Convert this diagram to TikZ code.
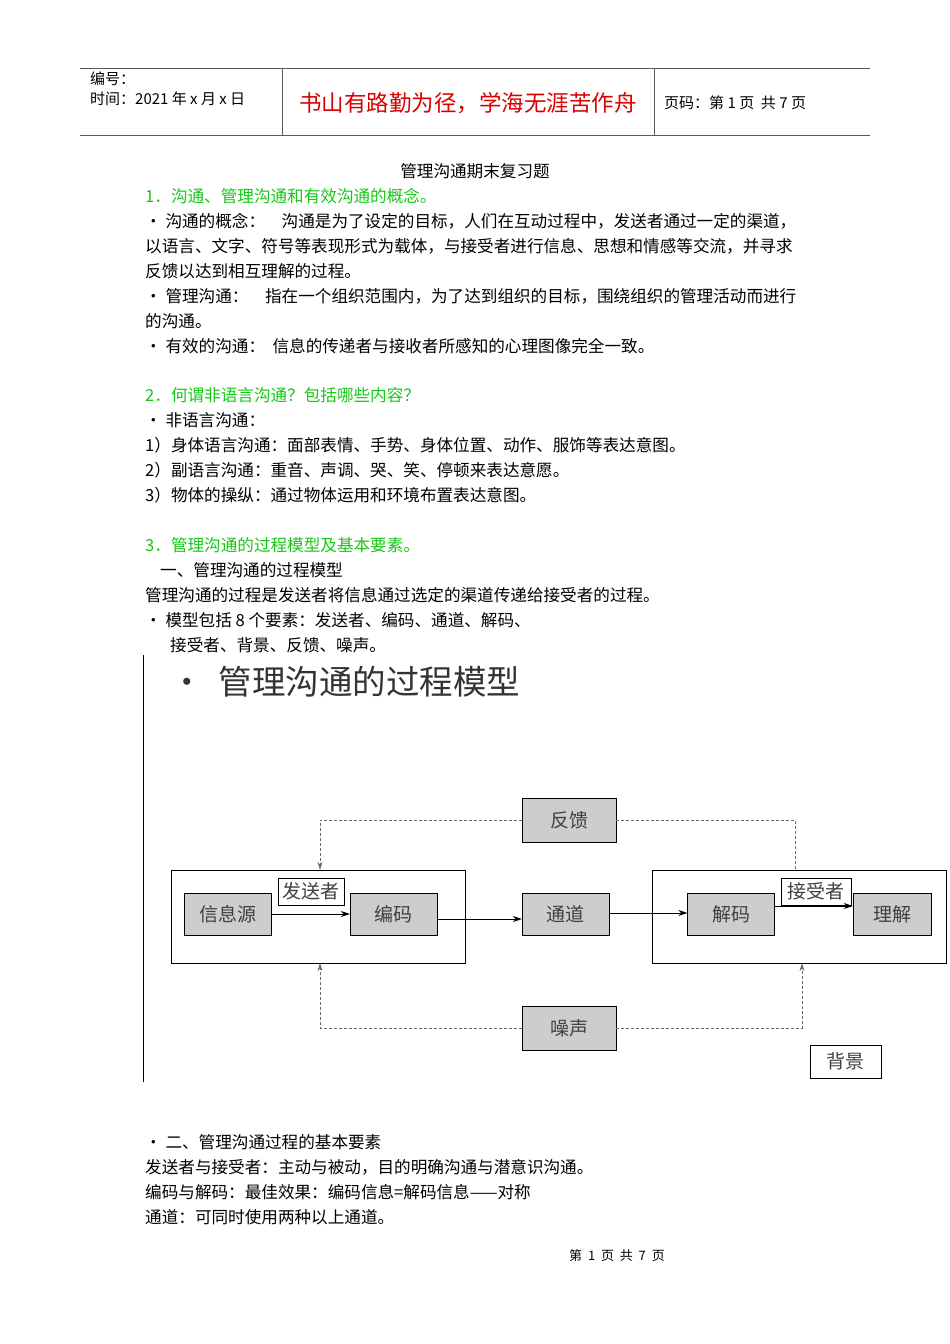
\documentclass[tikz,border=0pt]{standalone}
\usepackage{fontspec}
\setmainfont{Noto Sans CJK SC}
\usetikzlibrary{arrows.meta}
\definecolor{grn}{RGB}{20,200,20}
\definecolor{boxgray}{RGB}{205,205,205}
\begin{document}
\begin{tikzpicture}[x=1pt,y=-1pt,
  txt/.style={anchor=west,inner sep=0pt,font=\fontsize{16.6}{18}\selectfont},
  gtxt/.style={txt,text=grn},
  htxt/.style={anchor=west,inner sep=0pt,font=\fontsize{15}{16}\selectfont},
  gbox/.style={draw,fill=boxgray,minimum width=87pt,minimum height=42pt,inner sep=0pt,font=\fontsize{19}{20}\selectfont\color{black!75}},
  lbox/.style={draw,fill=white,inner sep=1pt,font=\fontsize{19}{20}\selectfont\color{black!75}},
  dl/.style={densely dashed,gray!80!black,line width=0.7pt},
  ar/.style={-{Stealth[length=9pt,width=6pt]},line width=0.8pt}]
\useasboundingbox (0,0) rectangle (950,1344);
% header
\draw[gray!70!black,line width=0.8pt] (80,68) -- (870,68) (80,135) -- (870,135);
\draw[gray!70!black,line width=0.8pt] (282,68) -- (282,135) (654,68) -- (654,135);
\node[htxt] (h1) at (90,79) {编号：};
\node[htxt] (h2) at (90,99) {时间：2021 年 x 月 x 日};
\node[inner sep=0pt,text=red!85!black,font=\fontsize{22.5}{24}\selectfont] (h3) at (468,103) {书山有路勤为径，学海无涯苦作舟};
\node[htxt] (h4) at (664,103) {页码：第 1 页\ \ 共 7 页};
\node[inner sep=0pt,font=\fontsize{16.6}{18}\selectfont] (t) at (475,171) {管理沟通期末复习题};
\node[gtxt] (l1) at (145,196) {1．沟通、管理沟通和有效沟通的概念。};
\node[txt] (l2) at (145,221) {• 沟通的概念：\quad 沟通是为了设定的目标，人们在互动过程中，发送者通过一定的渠道，};
\node[txt] (l3) at (145,246) {以语言、文字、符号等表现形式为载体，与接受者进行信息、思想和情感等交流，并寻求};
\node[txt] (l4) at (145,271) {反馈以达到相互理解的过程。};
\node[txt] (l5) at (145,296) {• 管理沟通：\quad 指在一个组织范围内，为了达到组织的目标，围绕组织的管理活动而进行};
\node[txt] (l6) at (145,321) {的沟通。};
\node[txt] (l7) at (145,346) {• 有效的沟通：\ \ 信息的传递者与接收者所感知的心理图像完全一致。};
\node[gtxt] (l8) at (145,395) {2．何谓非语言沟通？包括哪些内容？};
\node[txt] (l9) at (145,420) {• 非语言沟通：};
\node[txt] (l10) at (145,445) {1）身体语言沟通：面部表情、手势、身体位置、动作、服饰等表达意图。};
\node[txt] (l11) at (145,470) {2）副语言沟通：重音、声调、哭、笑、停顿来表达意愿。};
\node[txt] (l12) at (145,495) {3）物体的操纵：通过物体运用和环境布置表达意图。};
\node[gtxt] (l13) at (145,545) {3．管理沟通的过程模型及基本要素。};
\node[txt] (l14) at (160,570) {一、管理沟通的过程模型};
\node[txt] (l15) at (145,595) {管理沟通的过程是发送者将信息通过选定的渠道传递给接受者的过程。};
\node[txt] (l16) at (145,620) {• 模型包括 8 个要素：发送者、编码、通道、解码、};
\node[txt] (l17) at (170,645) {接受者、背景、反馈、噪声。};
% diagram
\draw[line width=0.8pt] (143,655) -- (143,1082);
\node[anchor=west,inner sep=0pt,font=\fontsize{33.5}{35}\selectfont\color{black!80}] (dt) at (170,682) {•\ \ 管理沟通的过程模型};
\node[draw,minimum width=294pt,minimum height=93pt,inner sep=0pt] (L) at (318,916.5) {};
\node[draw,minimum width=294pt,minimum height=93pt,inner sep=0pt] (R) at (799,916.5) {};
\node[gbox,minimum width=94pt,minimum height=44pt] (fk) at (569,820) {反馈};
\node[gbox,minimum width=94pt,minimum height=44pt] (zs) at (569,1028) {噪声};
\node[gbox] (xx) at (228,914) {信息源};
\node[gbox] (bm) at (393.5,914) {编码};
\node[gbox] (td) at (565.5,914) {通道};
\node[gbox] (jm) at (731,914) {解码};
\node[gbox,minimum width=78pt] (lj) at (892,914) {理解};
\node[lbox,minimum width=66pt,minimum height=27pt] (fs) at (311,891.5) {发送者};
\node[lbox,minimum width=70pt,minimum height=27pt] (js) at (816,891.5) {接受者};
\node[lbox,minimum width=71pt,minimum height=33pt] (bj) at (845.5,1061.5) {背景};
\draw[ar] (xx.east |- 0,914) -- (bm.west |- 0,914);
\draw[ar] (bm.east |- 0,919) -- (td.west |- 0,919);
\draw[ar] (td.east |- 0,913) -- (jm.west |- 0,913);
\draw[ar] (jm.east |- 0,906) -- (lj.west |- 0,906);
\coordinate (a1) at (320,820);
\coordinate (a2) at (795,820);
\coordinate (b1) at (320,1028);
\coordinate (b2) at (802,1028);
\draw[dl,-{Stealth[length=8pt,width=5pt]}] (fk.west) -- (a1) -- (a1 |- L.north);
\draw[dl] (fk.east) -- (a2) -- (a2 |- R.north);
\draw[dl,-{Stealth[length=8pt,width=5pt]}] (zs.west) -- (b1) -- (b1 |- L.south);
\draw[dl,-{Stealth[length=8pt,width=5pt]}] (zs.east) -- (b2) -- (b2 |- R.south);
% bottom
\node[txt] (m1) at (145,1142) {• 二、管理沟通过程的基本要素};
\node[txt] (m2) at (145,1167) {发送者与接受者：主动与被动，目的明确沟通与潜意识沟通。};
\node[txt] (m3) at (145,1192) {编码与解码：最佳效果：编码信息=解码信息——对称};
\node[txt] (m4) at (145,1217) {通道：可同时使用两种以上通道。};
\node[inner sep=0pt,font=\fontsize{13}{14}\selectfont] (ft) at (617,1256) {第\ \ 1\ \ 页\ \ 共\ \ 7\ \ 页};
\end{tikzpicture}
\end{document}
